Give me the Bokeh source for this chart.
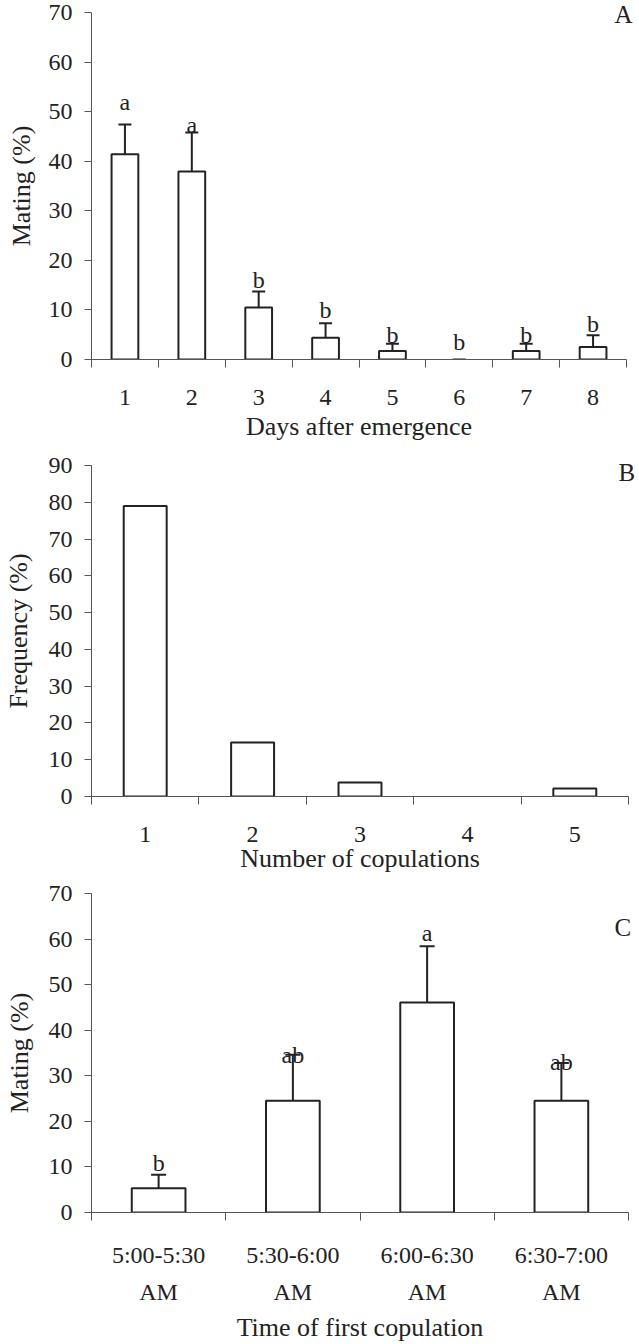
from bokeh.plotting import figure
from bokeh.models import FixedTicker, Whisker, TeeHead, ColumnDataSource, LinearAxis, Range1d
from bokeh.layouts import column
from bokeh.embed import file_html
from bokeh.resources import INLINE
from bokeh.core.properties import value

# ---------------- data ----------------
days = ["1", "2", "3", "4", "5", "6", "7", "8"]
mating_a = [41.4, 37.9, 10.5, 4.4, 1.7, 0.0, 1.7, 2.5]
upper_a = [47.4, 45.8, 13.7, 7.3, 3.2, 0.0, 3.2, 4.9]
letters_a = ["a", "a", "b", "b", "b", "b", "b", "b"]
letter_y_a = [51.9, 47.3, 16.1, 9.9, 5.0, 3.5, 5.0, 7.2]

copulations = ["1", "2", "3", "4", "5"]
freq_b = [79.0, 14.7, 3.8, 0.0, 2.2]

times = ["5:00-5:30", "5:30-6:00", "6:00-6:30", "6:30-7:00"]
time_suffix = ["AM", "AM", "AM", "AM"]
mating_c = [5.3, 24.5, 46.1, 24.5]
upper_c = [8.3, 34.6, 58.4, 32.8]
letters_c = ["b", "ab", "a", "ab"]
letter_y_c = [10.8, 34.6, 61.3, 33.1]

panel_tags = ["A", "B", "C"]

FONT = "Liberation Serif"
INK = "#222222"
AXIS = "#555555"


def panel(cats, vals, ymax, ylabel, xlabel, left, fw, fh, top, bottom, right,
          upper=None, letters=None, letter_y=None, cap=13, tag=None, tag_y=None,
          tag_standoff=-12, ylabel_standoff=10):
    n = len(cats)
    p = figure(frame_width=fw, frame_height=fh,
               min_border_left=left, min_border_right=right,
               min_border_top=top, min_border_bottom=bottom,
               x_range=Range1d(0.5, n + 0.5), y_range=Range1d(0, ymax),
               output_backend="svg", toolbar_location=None, tools="")
    p.outline_line_color = None
    p.grid.visible = False
    p.background_fill_color = "white"
    p.border_fill_color = "white"

    xs = list(range(1, n + 1))
    xa = p.xaxis[0]
    xa.ticker = FixedTicker(ticks=xs, minor_ticks=[i + 0.5 for i in range(0, n + 1)])
    xa.major_label_overrides = {x: c for x, c in zip(xs, cats)}
    xa.major_tick_line_color = None
    xa.major_tick_in = 0
    xa.major_tick_out = 6
    xa.minor_tick_line_color = AXIS
    xa.minor_tick_in = 0
    xa.minor_tick_out = 8
    xa.axis_line_color = AXIS
    xa.axis_line_width = 1
    xa.major_label_text_font = FONT
    xa.major_label_text_font_size = "24px"
    xa.major_label_text_color = INK
    xa.major_label_standoff = 22
    xa.axis_label = xlabel
    xa.axis_label_text_font = FONT
    xa.axis_label_text_font_size = "26px"
    xa.axis_label_text_font_style = "normal"
    xa.axis_label_text_color = INK
    xa.axis_label_standoff = 4

    ya = p.yaxis[0]
    ya.ticker = FixedTicker(ticks=list(range(0, ymax + 1, 10)), minor_ticks=[])
    ya.major_tick_in = 0
    ya.major_tick_out = 7
    ya.major_tick_line_color = AXIS
    ya.axis_line_color = AXIS
    ya.major_label_text_font = FONT
    ya.major_label_text_font_size = "24px"
    ya.major_label_text_color = INK
    ya.major_label_standoff = 12
    ya.axis_label = ylabel
    ya.axis_label_text_font = FONT
    ya.axis_label_text_font_size = "26px"
    ya.axis_label_text_font_style = "normal"
    ya.axis_label_text_color = INK
    ya.axis_label_standoff = ylabel_standoff

    nz = [i for i, v in enumerate(vals) if v > 0]
    bars = ColumnDataSource(dict(x=[xs[i] for i in nz], top=[vals[i] for i in nz]))
    p.vbar(x="x", top="top", bottom=0, width=0.4, source=bars,
           fill_color="white", line_color=INK, line_width=2)

    if upper is not None:
        src = ColumnDataSource(dict(x=xs, lower=vals, upper=upper))
        w = Whisker(base="x", lower="lower", upper="upper", source=src,
                    line_color=INK, line_width=2,
                    upper_head=TeeHead(size=cap, line_color=INK, line_width=2),
                    lower_head=None, level="glyph")
        p.add_layout(w)

    if letters is not None:
        p.text(x=xs, y=letter_y, text=letters, text_font=value(FONT),
               text_font_size="24px", text_align="center",
               text_baseline="alphabetic", text_color=INK)

    if tag is not None:
        ra = LinearAxis(ticker=FixedTicker(ticks=[tag_y], minor_ticks=[]),
                        major_label_overrides={tag_y: tag},
                        axis_line_color=None, major_tick_line_color=None,
                        minor_tick_line_color=None, major_tick_in=0, major_tick_out=0,
                        major_label_standoff=tag_standoff,
                        major_label_text_font=FONT, major_label_text_font_size="25px",
                        major_label_text_color=INK)
        p.add_layout(ra, "right")
    return p


pa = panel(days, mating_a, 70, "Mating (%)", "Days after emergence",
           left=84, fw=535, fh=347, top=12, bottom=90, right=12,
           upper=upper_a, letters=letters_a, letter_y=letter_y_a, cap=13,
           tag=panel_tags[0], tag_y=69.6, tag_standoff=-12, ylabel_standoff=10)

pb = panel(copulations, freq_b, 90, "Frequency (%)", "Number of copulations",
           left=87, fw=537, fh=331, top=16, bottom=83, right=7,
           tag=panel_tags[1], tag_y=88.1, tag_standoff=-10, ylabel_standoff=13)
pb.xaxis[0].axis_label_standoff = -1

pc = panel(times, mating_c, 70, "Mating (%)", None,
           left=90, fw=537, fh=319, top=14, bottom=124, right=4,
           upper=upper_c, letters=letters_c, letter_y=letter_y_c, cap=15,
           tag=panel_tags[2], tag_y=62.6, tag_standoff=-14, ylabel_standoff=12)
pc.xaxis[0].major_label_standoff = 21
ax2 = LinearAxis(ticker=FixedTicker(ticks=[1, 2, 3, 4], minor_ticks=[]),
                 major_label_overrides={x: s for x, s in zip([1, 2, 3, 4], time_suffix)},
                 axis_line_color=None, major_tick_line_color=None,
                 minor_tick_line_color=None, major_tick_in=0, major_tick_out=0,
                 major_label_text_font=FONT, major_label_text_font_size="24px",
                 major_label_text_color=INK, major_label_standoff=8,
                 axis_label="Time of first copulation", axis_label_text_font=FONT,
                 axis_label_text_font_size="26px", axis_label_text_font_style="normal",
                 axis_label_text_color=INK, axis_label_standoff=5)
pc.add_layout(ax2, "below")

layout = column(pa, pb, pc, spacing=0)
open("out.html", "w").write(file_html(layout, INLINE))
